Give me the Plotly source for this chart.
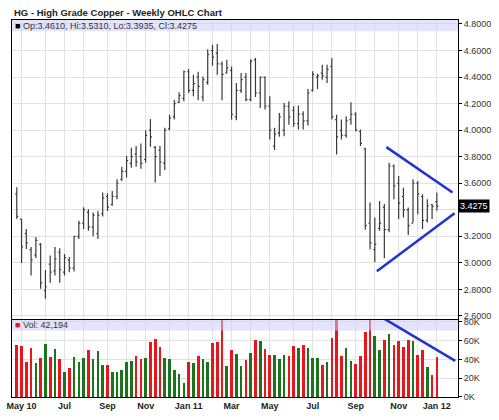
import plotly.graph_objects as go
import pandas as pd

# ---------------- data ----------------
start_week = "2010-04-26"
opens = [3.52, 3.33, 3.22, 3.10, 3.06, 3.14, 2.79, 2.99, 2.94, 3.08,
         2.93, 3.02, 2.96, 3.20, 3.30, 3.38, 3.27, 3.22, 3.37, 3.50,
         3.44, 3.50, 3.63, 3.69, 3.75, 3.82, 3.80, 3.78, 4.00, 3.87,
         3.85, 3.75, 4.01, 4.10, 4.21, 4.24, 4.44, 4.30, 4.40, 4.25,
         4.36, 4.60, 4.58, 4.50, 4.43, 4.45, 4.10, 4.30, 4.40, 4.23,
         4.53, 4.28, 4.40, 4.18, 3.88, 3.98, 4.00, 4.18, 4.15, 4.05,
         4.12, 4.07, 4.30, 4.40, 4.43, 4.40, 4.48, 4.08, 4.00, 3.96,
         4.08, 4.12, 3.99, 3.86, 3.30, 3.10, 3.26, 3.42, 3.25, 3.73,
         3.60, 3.50, 3.40, 3.30, 3.60, 3.50, 3.32, 3.44, 3.461]
highs = [3.57, 3.33, 3.255, 3.12, 3.195, 3.15, 2.947, 3.055, 3.12, 3.11,
         3.067, 3.045, 3.205, 3.317, 3.42, 3.405, 3.38, 3.392, 3.53, 3.525,
         3.542, 3.63, 3.725, 3.805, 3.867, 3.88, 3.90, 4.00, 4.085, 3.88,
         3.88, 4.018, 4.117, 4.23, 4.285, 4.45, 4.46, 4.418, 4.44, 4.405,
         4.61, 4.643, 4.65, 4.517, 4.53, 4.48, 4.355, 4.43, 4.43, 4.535,
         4.543, 4.405, 4.405, 4.255, 4.018, 4.13, 4.205, 4.217, 4.18, 4.185,
         4.142, 4.31, 4.443, 4.425, 4.493, 4.493, 4.543, 4.117, 4.08, 4.105,
         4.21, 4.135, 4.005, 3.867, 3.455, 3.342, 3.467, 3.443, 3.755, 3.742,
         3.655, 3.567, 3.417, 3.63, 3.617, 3.517, 3.48, 3.443, 3.531]
lows = [3.33, 3.00, 3.105, 2.905, 3.037, 2.805, 2.73, 2.85, 2.905, 2.85,
        2.905, 2.93, 2.935, 3.18, 3.255, 3.242, 3.20, 3.18, 3.35, 3.39,
        3.43, 3.48, 3.617, 3.643, 3.717, 3.725, 3.71, 3.755, 3.875, 3.605,
        3.655, 3.70, 4.00, 4.08, 4.205, 4.217, 4.28, 4.255, 4.225, 4.217,
        4.343, 4.485, 4.418, 4.225, 4.43, 4.08, 4.075, 4.28, 4.217, 4.217,
        4.25, 4.167, 4.155, 3.93, 3.85, 3.95, 3.955, 4.04, 4.025, 4.005,
        4.005, 4.035, 4.292, 4.31, 4.38, 4.355, 4.08, 3.817, 3.93, 3.943,
        4.04, 3.992, 3.88, 3.25, 3.10, 3.005, 3.242, 3.035, 3.23, 3.48,
        3.33, 3.342, 3.21, 3.305, 3.367, 3.255, 3.305, 3.33, 3.3935]
closes = [3.35, 3.12, 3.15, 3.02, 3.17, 2.85, 2.82, 2.93, 3.03, 2.95,
          3.04, 2.96, 3.20, 3.30, 3.40, 3.27, 3.36, 3.36, 3.49, 3.42,
          3.50, 3.60, 3.69, 3.77, 3.80, 3.76, 3.75, 3.96, 3.95, 3.80,
          3.76, 4.00, 4.09, 4.20, 4.26, 4.44, 4.30, 4.35, 4.33, 4.38,
          4.57, 4.55, 4.50, 4.42, 4.47, 4.12, 4.30, 4.38, 4.23, 4.52,
          4.28, 4.40, 4.18, 4.00, 3.97, 4.10, 4.18, 4.10, 4.05, 4.12,
          4.07, 4.28, 4.42, 4.41, 4.41, 4.46, 4.10, 3.95, 3.96, 4.07,
          4.12, 4.00, 3.90, 3.28, 3.15, 3.14, 3.30, 3.25, 3.73, 3.58,
          3.45, 3.40, 3.28, 3.60, 3.52, 3.32, 3.43, 3.425, 3.4275]
volumes = [55000, 54000, 37500, 52500, 36000, 42000, 56000, 42500, 51400, 40000,
           26400, 31000, 42500, 37500, 42000, 49600, 40000, 49000, 33600, 33600,
           26400, 27000, 28600, 37000, 38000, 44000, 40000, 42000, 58600, 61400,
           53000, 42000, 40000, 29000, 24600, 15000, 37500, 36000, 44000, 40000,
           37500, 57000, 58600, 88000, 33000, 49600, 46000, 33000, 39000, 47000,
           61000, 59600, 50700, 45000, 44600, 40000, 44600, 43600, 54600, 51800,
           55000, 51800, 42000, 42000, 34600, 37500, 63000, 86000, 43600, 51800,
           38000, 35000, 43600, 69000, 90000, 65000, 49600, 61000, 66800, 55000,
           59600, 53600, 61000, 59600, 45000, 49600, 32000, 23000, 42194]

weeks = pd.date_range(start_week, periods=len(closes), freq="7D")

price_ticks = [2.6, 2.8, 3.0, 3.2, 3.4, 3.6, 3.8, 4.0, 4.2, 4.4, 4.6, 4.8]
price_ticktext = ["2.6000", "2.8000", "3.0000", "3.2000", "", "3.6000",
                  "3.8000", "4.0000", "4.2000", "4.4000", "4.6000", "4.8000"]
vol_ticks = [0, 20000, 40000, 60000, 80000]
vol_ticktext = ["0K", "20K", "40K", "60K", "80K"]
month_ticktext = ["May 10", "", "Jul", "", "Sep", "", "Nov", "", "Jan 11", "",
                  "Mar", "", "May", "", "Jul", "", "Sep", "", "Nov", "", "Jan 12"]

x_range = ["2010-04-19", "2012-02-02"]
price_range = [2.578, 4.83]
vol_range = [0, 82000]

trend_upper = [("2011-10-20", 3.872), ("2012-01-25", 3.53)]
trend_lower = [("2011-10-06", 2.937), ("2012-01-28", 3.373)]
trend_volume = [("2011-10-13", 85000), ("2012-01-29", 38400)]

# ---------------- derived ----------------
# first weekly bar of each month
month_ticks = [d for d in weeks if d.day <= 7]

up_color = "#1b741b"
down_color = "#e8161a"
bar_colors = [up_color if c >= o else down_color for o, c in zip(opens, closes)]
bar_grey = "#3a3a3a"
grid = "#e2e2e2"
blue = "#1f32d2"
font_family = "Liberation Sans, Arial, sans-serif"

fig = go.Figure()
fig.add_trace(go.Ohlc(
    x=weeks, open=opens, high=highs, low=lows, close=closes,
    increasing=dict(line=dict(color=bar_grey, width=1.2)),
    decreasing=dict(line=dict(color=bar_grey, width=1.2)),
    tickwidth=0.32, xaxis="x", yaxis="y", hoverinfo="skip", showlegend=False))
fig.add_trace(go.Bar(
    x=weeks, y=volumes, marker=dict(color=bar_colors, line=dict(width=0)),
    width=3.9 * 86400000, xaxis="x2", yaxis="y2", hoverinfo="skip",
    showlegend=False))

axis_common = dict(showline=True, linecolor="#000", linewidth=1, mirror=True,
                   showgrid=True, gridcolor=grid, gridwidth=1, zeroline=False,
                   automargin=False)

fig.update_layout(
    width=499, height=420,
    margin=dict(l=12, r=41, t=20, b=23),
    paper_bgcolor="white", plot_bgcolor="white",
    font=dict(family=font_family, color="#333", size=9),
    bargap=0,
    xaxis=dict(domain=[0, 1], anchor="y", matches="x2", range=x_range,
               tickvals=month_ticks, showticklabels=False, ticks="",
               rangeslider=dict(visible=False), **axis_common),
    yaxis=dict(domain=[0.2072, 1], anchor="x", side="right", range=price_range,
               tickvals=price_ticks, ticktext=price_ticktext,
               ticks="outside", ticklen=3, tickcolor="#000",
               tickfont=dict(size=9, color="#333"), **axis_common),
    xaxis2=dict(domain=[0, 1], anchor="y2", range=x_range,
                tickvals=month_ticks, ticktext=month_ticktext, ticks="",
                tickangle=0,
                tickfont=dict(size=9, color="#222", weight="bold"),
                rangeslider=dict(visible=False), **axis_common),
    yaxis2=dict(domain=[0, 0.2042], anchor="x2", side="right", range=vol_range,
                tickvals=vol_ticks, ticktext=vol_ticktext,
                ticks="outside", ticklen=3, tickcolor="#000",
                tickfont=dict(size=9, color="#333"), **axis_common),
)

shapes = []
# legend bands (semi transparent lavender, drawn over bars)
shapes.append(dict(type="rect", xref="x domain", yref="y domain",
                   x0=0, x1=1, y0=0.962, y1=1, layer="above",
                   fillcolor="rgba(205,205,250,0.55)", line=dict(width=0)))
shapes.append(dict(type="rect", xref="x2 domain", yref="y2 domain",
                   x0=0, x1=1, y0=0.865, y1=1, layer="above",
                   fillcolor="rgba(205,205,250,0.55)", line=dict(width=0)))
for (xa, ya), (xb, yb) in [trend_upper, trend_lower]:
    shapes.append(dict(type="line", xref="x", yref="y", x0=xa, y0=ya, x1=xb, y1=yb,
                       line=dict(color=blue, width=2.5), layer="above"))
(xa, ya), (xb, yb) = trend_volume
shapes.append(dict(type="line", xref="x2", yref="y2", x0=xa, y0=ya, x1=xb, y1=yb,
                   line=dict(color=blue, width=2.5), layer="above"))
fig.update_layout(shapes=shapes)

last = len(closes) - 1
legend_ohlc = ("<span style='color:#000'>■</span> Op:%.4f, Hi:%.4f, Lo:%.4f, Cl:%.4f"
               % (opens[last], highs[last], lows[last], closes[last]))
legend_vol = ("<span style='color:%s'>■</span> Vol: %s"
              % (bar_colors[last], format(volumes[last], ",")))

fig.update_layout(annotations=[
    dict(text="<b>HG - High Grade Copper - Weekly OHLC Chart</b>",
         xref="paper", yref="paper", x=0, y=1, xanchor="left", yanchor="bottom",
         yshift=0, showarrow=False, font=dict(size=9.5, color="#222")),
    dict(text=legend_ohlc, xref="x domain", yref="y domain", x=0, y=0.981,
         xanchor="left", yanchor="middle", xshift=1, showarrow=False,
         font=dict(size=9, color="#333")),
    dict(text=legend_vol, xref="x2 domain", yref="y2 domain", x=0, y=0.93,
         xanchor="left", yanchor="middle", xshift=1, showarrow=False,
         font=dict(size=9, color="#333")),
    dict(text="%.4f" % closes[last], xref="paper", yref="y", x=1, y=closes[last],
         xanchor="left", yanchor="middle", showarrow=False, bgcolor="#000",
         borderpad=1, font=dict(size=9, color="#fff")),
])

fig.write_html("out.html")
